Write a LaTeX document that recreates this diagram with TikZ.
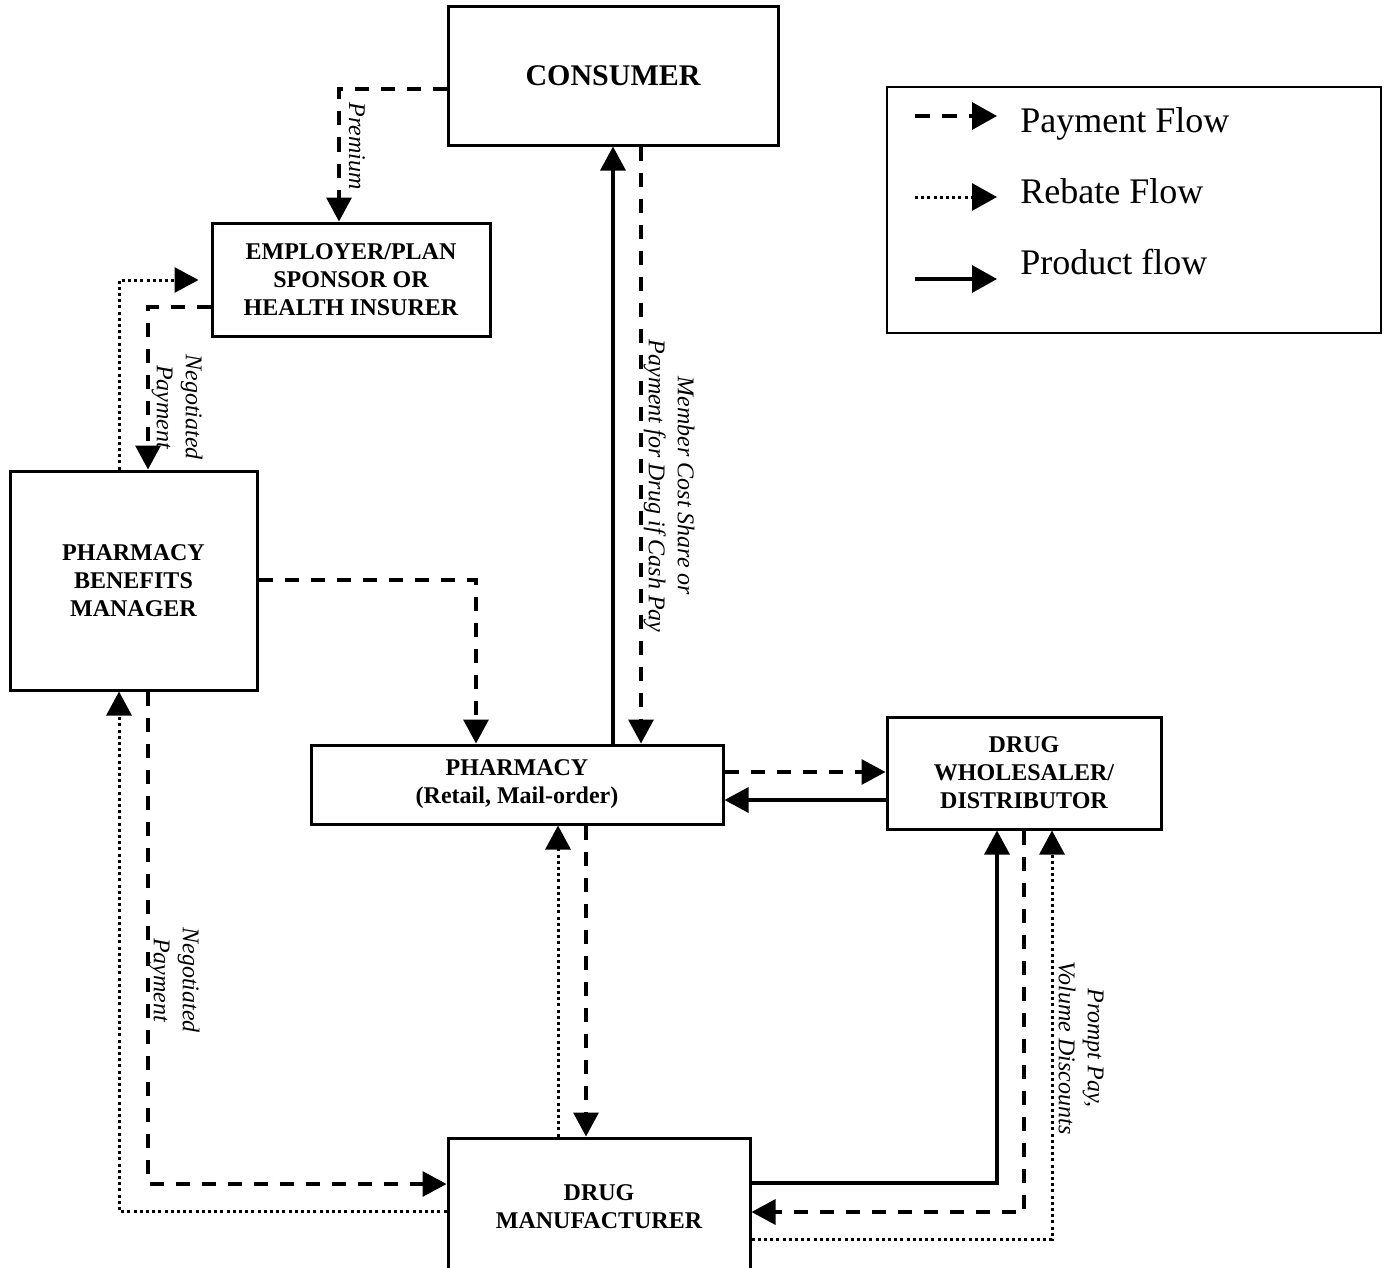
\documentclass[tikz,border=0pt]{standalone}
\usepackage{fontspec}
\setmainfont{Liberation Serif}
\usetikzlibrary{arrows.meta}

\begin{document}
\begin{tikzpicture}[x=0.5pt,y=-0.5pt,
  box/.style={draw,line width=1.5pt,inner sep=0pt,align=center,font=\bfseries\fontsize{12}{14}\selectfont},
  lbl/.style={rotate=-90,align=center,inner sep=0pt,font=\itshape\fontsize{12}{14.5}\selectfont},
  keytxt/.style={anchor=base west,inner sep=0pt,font=\fontsize{18}{20}\selectfont},
  flow/.style={line width=1.6pt,-{Triangle[length=12pt,width=12.5pt]}},
  pay/.style={flow,dash pattern=on 7pt off 6pt},
  rebate/.style={flow,line width=1.5pt,dash pattern=on 1.5pt off 1.6pt},
  product/.style={flow}]
\useasboundingbox (0,0) rectangle (1386,1268);
\clip (0,0) rectangle (1386,1268);

%BOXES
  \node (consumer) at (613,76) [box, minimum width=165pt, minimum height=69pt, font=\bfseries\fontsize{15}{17}\selectfont] {CONSUMER};
  \node (employer) at (351,279.5) [box, minimum width=139pt, minimum height=56.5pt] {EMPLOYER/PLAN\\SPONSOR OR\\HEALTH INSURER};
  \node (pbm) at (133.5,580.5) [box, minimum width=123.5pt, minimum height=109.5pt] {PHARMACY\\BENEFITS\\MANAGER};
  \node (pharmacy) at (517,784.5) [box, minimum width=206pt, minimum height=39.5pt] {PHARMACY\\(Retail, Mail-order)};
  \node (wholesaler) at (1024,773) [box, minimum width=137pt, minimum height=56pt] {DRUG\\WHOLESALER/\\DISTRIBUTOR};
  \node (manufacturer) at (599,1207) [box, minimum width=151pt, minimum height=69pt] {DRUG\\MANUFACTURER};

%LEGEND
  \node (legend) at (1134,210) [draw, line width=1.2pt, minimum width=247pt, minimum height=123pt] {};
  \node (paytxt) at (1020,133) [keytxt] {Payment Flow};
  \node (rebtxt) at (1020,203) [keytxt] {Rebate Flow};
  \node (prodtxt) at (1020,274) [keytxt] {Product flow};
  \coordinate (payfrom) at (915,116);  \coordinate (payto) at (997,116);
  \coordinate (rebfrom) at (915,197);  \coordinate (rebto) at (997,197);
  \coordinate (prodfrom) at (915,279); \coordinate (prodto) at (997,279);
  \draw[pay, dash pattern=on 7.5pt off 6pt, -{Triangle[length=12.5pt,width=13.5pt]}] (payfrom) -- (payto);
  \draw[rebate, -{Triangle[length=12.5pt,width=13.5pt]}] (rebfrom) -- (rebto);
  \draw[product, -{Triangle[length=12.5pt,width=13.5pt]}] (prodfrom) -- (prodto);

%TOP
  \draw[pay] (consumer.west |- 0,89) -| (339,0 |- employer.north);
  \node (premium) at (357,146) [lbl] {Premium};
  \draw[pay] (employer.west |- 0,307) -| (148,0 |- pbm.north);
  \draw[rebate, shorten >=6pt] (119,0 |- pbm.north) |- (employer.west |- 0,280);
  \node (negtop) at (177,407) [lbl] {Negotiated\\Payment};

%MIDDLE
  \draw[pay] (pbm.east |- 0,580) -| (476,0 |- pharmacy.north);
  \draw[product] (613,0 |- pharmacy.north) -- (613,0 |- consumer.south);
  \draw[pay] (641,0 |- consumer.south) -- (641,0 |- pharmacy.north);
  \node (member) at (669,486) [lbl] {Member Cost Share or\\Payment for Drug if Cash Pay};
  \draw[pay] (pharmacy.east |- 0,772) -- (wholesaler.west |- 0,772);
  \draw[product] (wholesaler.west |- 0,800) -- (pharmacy.east |- 0,800);
  \draw[pay] (586,0 |- pharmacy.south) -- (586,0 |- manufacturer.north);
  \draw[rebate] (558,0 |- manufacturer.north) -- (558,0 |- pharmacy.south);

%BOTTOM
  \draw[pay] (148,0 |- pbm.south) |- (manufacturer.west |- 0,1184);
  \draw[rebate] (manufacturer.west |- 0,1211) -| (119,0 |- pbm.south);
  \node (negbot) at (174,980) [lbl] {Negotiated\\Payment};
  \draw[product] (manufacturer.east |- 0,1183) -| (997,0 |- wholesaler.south);
  \draw[pay] (1024,0 |- wholesaler.south) |- (manufacturer.east |- 0,1212);
  \draw[rebate] (manufacturer.east |- 0,1239) -| (1052,0 |- wholesaler.south);
  \node (prompt) at (1081,1048) [lbl] {Prompt Pay,\\Volume Discounts};
\end{tikzpicture}
\end{document}
